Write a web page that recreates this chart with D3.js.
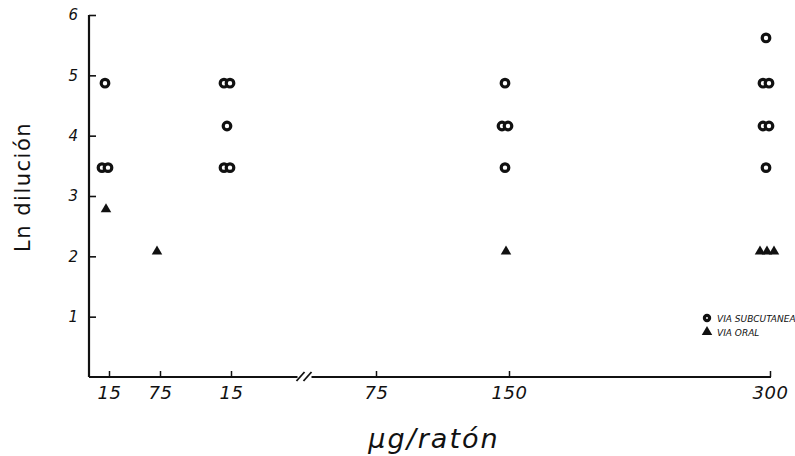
<!DOCTYPE html>
<html><head><meta charset="utf-8">
<script src="https://cdn.jsdelivr.net/npm/d3@7"></script>
<style>
html,body{margin:0;padding:0;background:#fff;}
svg{display:block;}
text{font-family:"DejaVu Sans",sans-serif;fill:#111;}
</style></head>
<body>
<svg id="chart" width="795" height="456"></svg>
<script>
// ---- data ----
const xTickLabels = ["15", "75", "15", "75", "150", "300"];
const yTicks = [1, 2, 3, 4, 5, 6];
// VIA SUBCUTANEA (circles): category index, Ln dilución, number of overlapping marks
const subX = [0, 0, 2, 2, 2, 4, 4, 4, 5, 5, 5, 5];
const subY = [4.87, 3.47, 4.87, 4.16, 3.47, 4.87, 4.16, 3.47, 5.62, 4.87, 4.16, 3.47];
const subN = [1, 2, 2, 1, 2, 1, 2, 1, 1, 2, 2, 1];
// VIA ORAL (triangles)
const oralX = [0, 1, 4, 5];
const oralY = [2.78, 2.08, 2.08, 2.08];
const oralN = [1, 1, 1, 3];
const legendLabels = ["VIA SUBCUTANEA", "VIA ORAL"];

const svg = d3.select("#chart");
const x = d3.scaleLinear().domain([0, 1, 2, 3, 4, 5]).range([109, 160, 231, 376, 509, 770]);
const y = d3.scaleLinear().domain([0, 6]).range([377, 15]);
const axisLeft = 89, axisRight = 771;
const ink = "#111";

// y axis
const ya = svg.append("g").attr("transform", `translate(${axisLeft},0)`)
  .call(d3.axisLeft(y).tickValues(yTicks).tickSize(-7).tickPadding(9).tickFormat(d3.format("d")));
ya.select(".domain").remove();
ya.selectAll(".tick line").attr("stroke", ink).attr("stroke-width", 1.6);
ya.selectAll(".tick text").attr("font-size", 15).attr("font-style", "italic").attr("fill", "#222")
  .attr("font-weight", "300").attr("dx", -2);
ya.append("line").attr("x1", 0).attr("x2", 0).attr("y1", y(6)).attr("y2", y(0))
  .attr("stroke", ink).attr("stroke-width", 2.2);

// x axis
const xa = svg.append("g").attr("transform", `translate(0,${y(0)})`)
  .call(d3.axisBottom(x).tickValues([0, 1, 2, 3, 4, 5]).tickSize(-6).tickPadding(9)
    .tickFormat((d, i) => xTickLabels[i]));
xa.select(".domain").remove();
xa.selectAll(".tick line").attr("stroke", ink).attr("stroke-width", 1.5);
xa.selectAll(".tick text").attr("font-size", 18).attr("font-style", "italic").attr("fill", "#111")
  .attr("font-weight", "300").attr("letter-spacing", 0.5);
// axis baseline with break
const breakPos = x(2.5);
xa.append("line").attr("x1", axisLeft).attr("x2", breakPos - 6).attr("y1", 0).attr("y2", 0)
  .attr("stroke", ink).attr("stroke-width", 2);
xa.append("line").attr("x1", breakPos + 8).attr("x2", axisRight).attr("y1", 0).attr("y2", 0)
  .attr("stroke", ink).attr("stroke-width", 2);
[-3, 4].forEach(o => {
  xa.append("line").attr("x1", breakPos + o - 4).attr("x2", breakPos + o + 4)
    .attr("y1", 4).attr("y2", -5).attr("stroke", ink).attr("stroke-width", 1.8);
});

// axis titles
svg.append("text").attr("transform", `translate(30,${y(3.15)}) rotate(-90)`)
  .attr("text-anchor", "middle").attr("font-size", 21).attr("letter-spacing", 1.5)
  .attr("fill", "#111").text("Ln  dilución");
svg.append("text").attr("x", 434).attr("y", 448).attr("text-anchor", "middle")
  .attr("font-size", 27).attr("font-style", "italic").attr("font-weight", "300")
  .attr("letter-spacing", 2).text("μg/ratón");

// markers
const triPath = d3.symbol().type(d3.symbolTriangle).size(48)();
function drawCircles(g, cx, cy, n, r = 3.8) {
  for (let k = 0; k < n; k++) {
    g.append("circle").attr("cx", cx - 4 + (k - (n - 1) / 2) * 6).attr("cy", cy).attr("r", r)
      .attr("fill", "#fff").attr("stroke", ink).attr("stroke-width", 3.2);
  }
}
function drawTris(g, cx, cy, n) {
  for (let k = 0; k < n; k++) {
    g.append("path").attr("d", triPath)
      .attr("transform", `translate(${cx - 3 + (k - (n - 1) / 2) * 7},${cy})`).attr("fill", ink);
  }
}
const marks = svg.append("g");
subX.forEach((xi, i) => drawCircles(marks, x(xi), y(subY[i]), subN[i]));
oralX.forEach((xi, i) => drawTris(marks, x(xi), y(oralY[i]), oralN[i]));

// legend
const lg = svg.append("g").attr("transform", "translate(707,318)");
drawCircles(lg, 4, 0, 1, 2.6);
drawTris(lg, 3, 14, 1);
legendLabels.forEach((t, i) => {
  lg.append("text").attr("x", 10).attr("y", i * 14 + 3.5).attr("font-size", 9)
    .attr("font-style", "italic").attr("fill", "#222").text(t);
});
</script>
</body></html>
